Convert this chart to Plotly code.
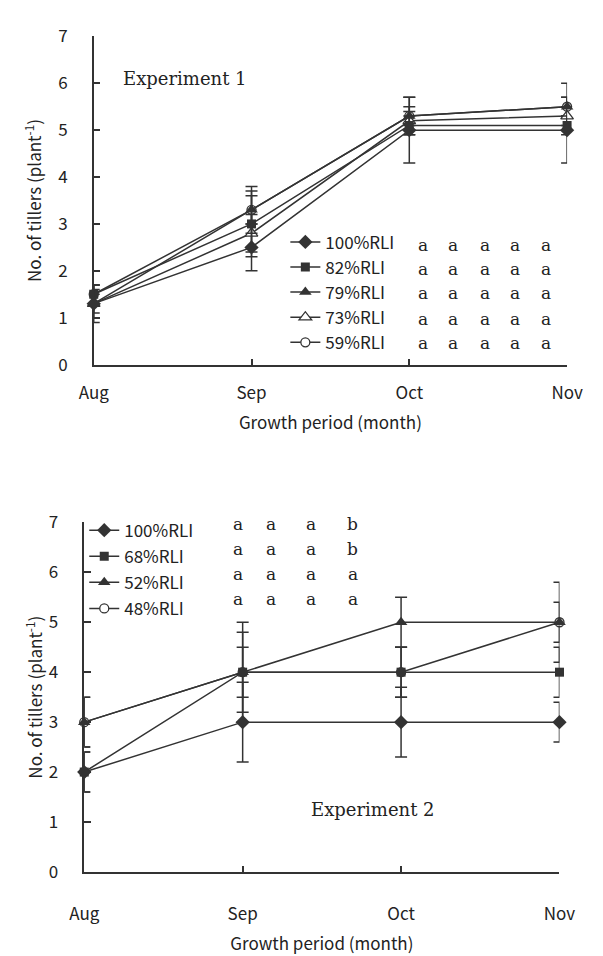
import plotly.graph_objects as go

# ---------------- data ----------------
months = ["Aug", "Sep", "Oct", "Nov"]

exp1_names = ["100%RLI", "82%RLI", "79%RLI", "73%RLI", "59%RLI"]
exp1_values = [
    [1.3, 2.5, 5.0, 5.0],
    [1.5, 3.0, 5.1, 5.1],
    [1.3, 3.3, 5.3, 5.5],
    [1.3, 2.8, 5.2, 5.3],
    [1.5, 3.3, 5.3, 5.5],
]
exp1_errors = [
    [0.4, 0.5, 0.7, 0.7],
    [0.2, 0.7, 0.2, 0.2],
    [0.3, 0.5, 0.4, 0.5],
    [0.2, 0.4, 0.2, 0.2],
    [0.2, 0.3, 0.2, 0.2],
]
exp1_letters = [
    ["a", "a", "a", "a", "a"],
    ["a", "a", "a", "a", "a"],
    ["a", "a", "a", "a", "a"],
    ["a", "a", "a", "a", "a"],
    ["a", "a", "a", "a", "a"],
]

exp2_names = ["100%RLI", "68%RLI", "52%RLI", "48%RLI"]
exp2_values = [
    [2, 3, 3, 3],
    [2, 4, 4, 4],
    [3, 4, 5, 5],
    [3, 4, 4, 5],
]
exp2_errors = [
    [0.4, 0.8, 0.7, 0.4],
    [0.4, 1.0, 0.5, 0.5],
    [0.5, 0.8, 0.5, 0.8],
    [0.5, 0.5, 0.5, 0.4],
]
exp2_letters = [
    ["a", "a", "a", "b"],
    ["a", "a", "a", "b"],
    ["a", "a", "a", "a"],
    ["a", "a", "a", "a"],
]

y_ticks = [0, 1, 2, 3, 4, 5, 6, 7]

# ---------------- style ----------------
W, H = 603, 956
INK = "#333333"
TXT = "#222222"
SANS = "Noto Sans CJK JP, Liberation Sans, sans-serif"
SERIF = "DejaVu Serif, Liberation Serif, serif"

exp1_markers = [
    dict(symbol="diamond", size=11, color=INK),
    dict(symbol="square", size=9, color=INK),
    dict(symbol="triangle-up", size=11, color=INK),
    dict(symbol="triangle-up", size=11, color="white", line=dict(color=INK, width=1.3)),
    dict(symbol="circle", size=9, color="white", line=dict(color=INK, width=1.3)),
]
exp2_markers = [
    dict(symbol="diamond", size=11, color=INK),
    dict(symbol="square", size=9, color=INK),
    dict(symbol="triangle-up", size=11, color=INK),
    dict(symbol="circle", size=9, color="white", line=dict(color=INK, width=1.3)),
]


def px(x):
    return x / W


def py(y):
    return 1 - y / H


fig = go.Figure()

# added in reverse so filled markers sit on top; legend order fixed by legendrank
for i in reversed(range(len(exp1_names))):
    name = exp1_names[i]
    fig.add_trace(go.Scatter(
        x=months, y=exp1_values[i], name=name, mode="lines+markers",
        line=dict(color=INK, width=1.5), marker=exp1_markers[i],
        error_y=dict(type="data", array=exp1_errors[i], color=INK, thickness=1.5, width=6),
        xaxis="x", yaxis="y", legend="legend", legendgroup="e1_" + name,
        legendrank=100 + i, cliponaxis=False,
    ))

for i in reversed(range(len(exp2_names))):
    name = exp2_names[i]
    fig.add_trace(go.Scatter(
        x=months, y=exp2_values[i], name=name, mode="lines+markers",
        line=dict(color=INK, width=1.5), marker=exp2_markers[i],
        error_y=dict(type="data", array=exp2_errors[i], color=INK, thickness=1.5, width=6),
        xaxis="x2", yaxis="y2", legend="legend2", legendgroup="e2_" + name,
        legendrank=100 + i, cliponaxis=False,
    ))

axis_common = dict(
    showline=True, linecolor=INK, linewidth=1.5, ticks="inside", tickcolor=INK,
    tickwidth=1.5, showgrid=False, zeroline=False,
    tickfont=dict(family=SANS, size=17, color=TXT),
)

yt = "No. of tillers (plant<sup>-1</sup>)"
xt = "Growth period (month)"

fig.update_layout(
    width=W, height=H, margin=dict(l=0, r=0, t=0, b=0),
    paper_bgcolor="white", plot_bgcolor="white",
    xaxis=dict(domain=[px(83), px(582)], type="category", range=[0, 3], anchor="y",
               ticklen=6, ticklabelstandoff=12,
               title=dict(text=xt, standoff=14, font=dict(family=SANS, size=17, color=TXT)),
               **axis_common),
    yaxis=dict(domain=[py(360), py(23)], range=[0, 7], tickvals=y_ticks, anchor="x",
               ticklen=7, ticklabelstandoff=21,
               title=dict(text=yt, standoff=12, font=dict(family=SANS, size=17, color=TXT)),
               **axis_common),
    xaxis2=dict(domain=[px(73), px(574)], type="category", range=[0, 3], anchor="y2",
                ticklen=6, ticklabelstandoff=26,
                title=dict(text=xt, standoff=14, font=dict(family=SANS, size=17, color=TXT)),
                **axis_common),
    yaxis2=dict(domain=[py(881), py(522)], range=[0, 7], tickvals=y_ticks, anchor="x2",
                ticklen=7, ticklabelstandoff=21,
                title=dict(text=yt, standoff=2, font=dict(family=SANS, size=17, color=TXT)),
                **axis_common),
    legend=dict(x=px(285), y=py(216), xanchor="left", yanchor="top",
                bgcolor="rgba(0,0,0,0)", traceorder="grouped", tracegroupgap=0,
                font=dict(family=SANS, size=17, color=TXT)),
    legend2=dict(x=px(73), y=py(512), xanchor="left", yanchor="top",
                 bgcolor="rgba(0,0,0,0)", traceorder="grouped", tracegroupgap=1,
                 font=dict(family=SANS, size=17, color=TXT)),
    showlegend=True,
)

annotations = []
annotations.append(dict(text="Experiment 1", x=px(112), y=py(66), xref="paper", yref="paper",
                        xanchor="left", yanchor="middle", showarrow=False,
                        font=dict(family=SERIF, size=18, color=TXT)))
annotations.append(dict(text="Experiment 2", x=px(377), y=py(817), xref="paper", yref="paper",
                        xanchor="center", yanchor="middle", showarrow=False,
                        font=dict(family=SERIF, size=18, color=TXT)))

exp1_cols = [430, 462, 495, 527, 560]
exp1_rows = [237, 262, 287, 313, 338]
for r, row in enumerate(exp1_letters):
    for c, letter in enumerate(row):
        annotations.append(dict(text=letter, x=px(exp1_cols[c]), y=py(exp1_rows[r]),
                                xref="paper", yref="paper", showarrow=False,
                                xanchor="center", yanchor="middle",
                                font=dict(family=SERIF, size=17, color=TXT)))

exp2_cols = [235, 270, 312, 356]
exp2_rows = [524, 549, 575, 601]
for r, row in enumerate(exp2_letters):
    for c, letter in enumerate(row):
        annotations.append(dict(text=letter, x=px(exp2_cols[c]), y=py(exp2_rows[r]),
                                xref="paper", yref="paper", showarrow=False,
                                xanchor="center", yanchor="middle",
                                font=dict(family=SERIF, size=17, color=TXT)))

fig.update_layout(annotations=annotations)

fig.write_html("out.html")
